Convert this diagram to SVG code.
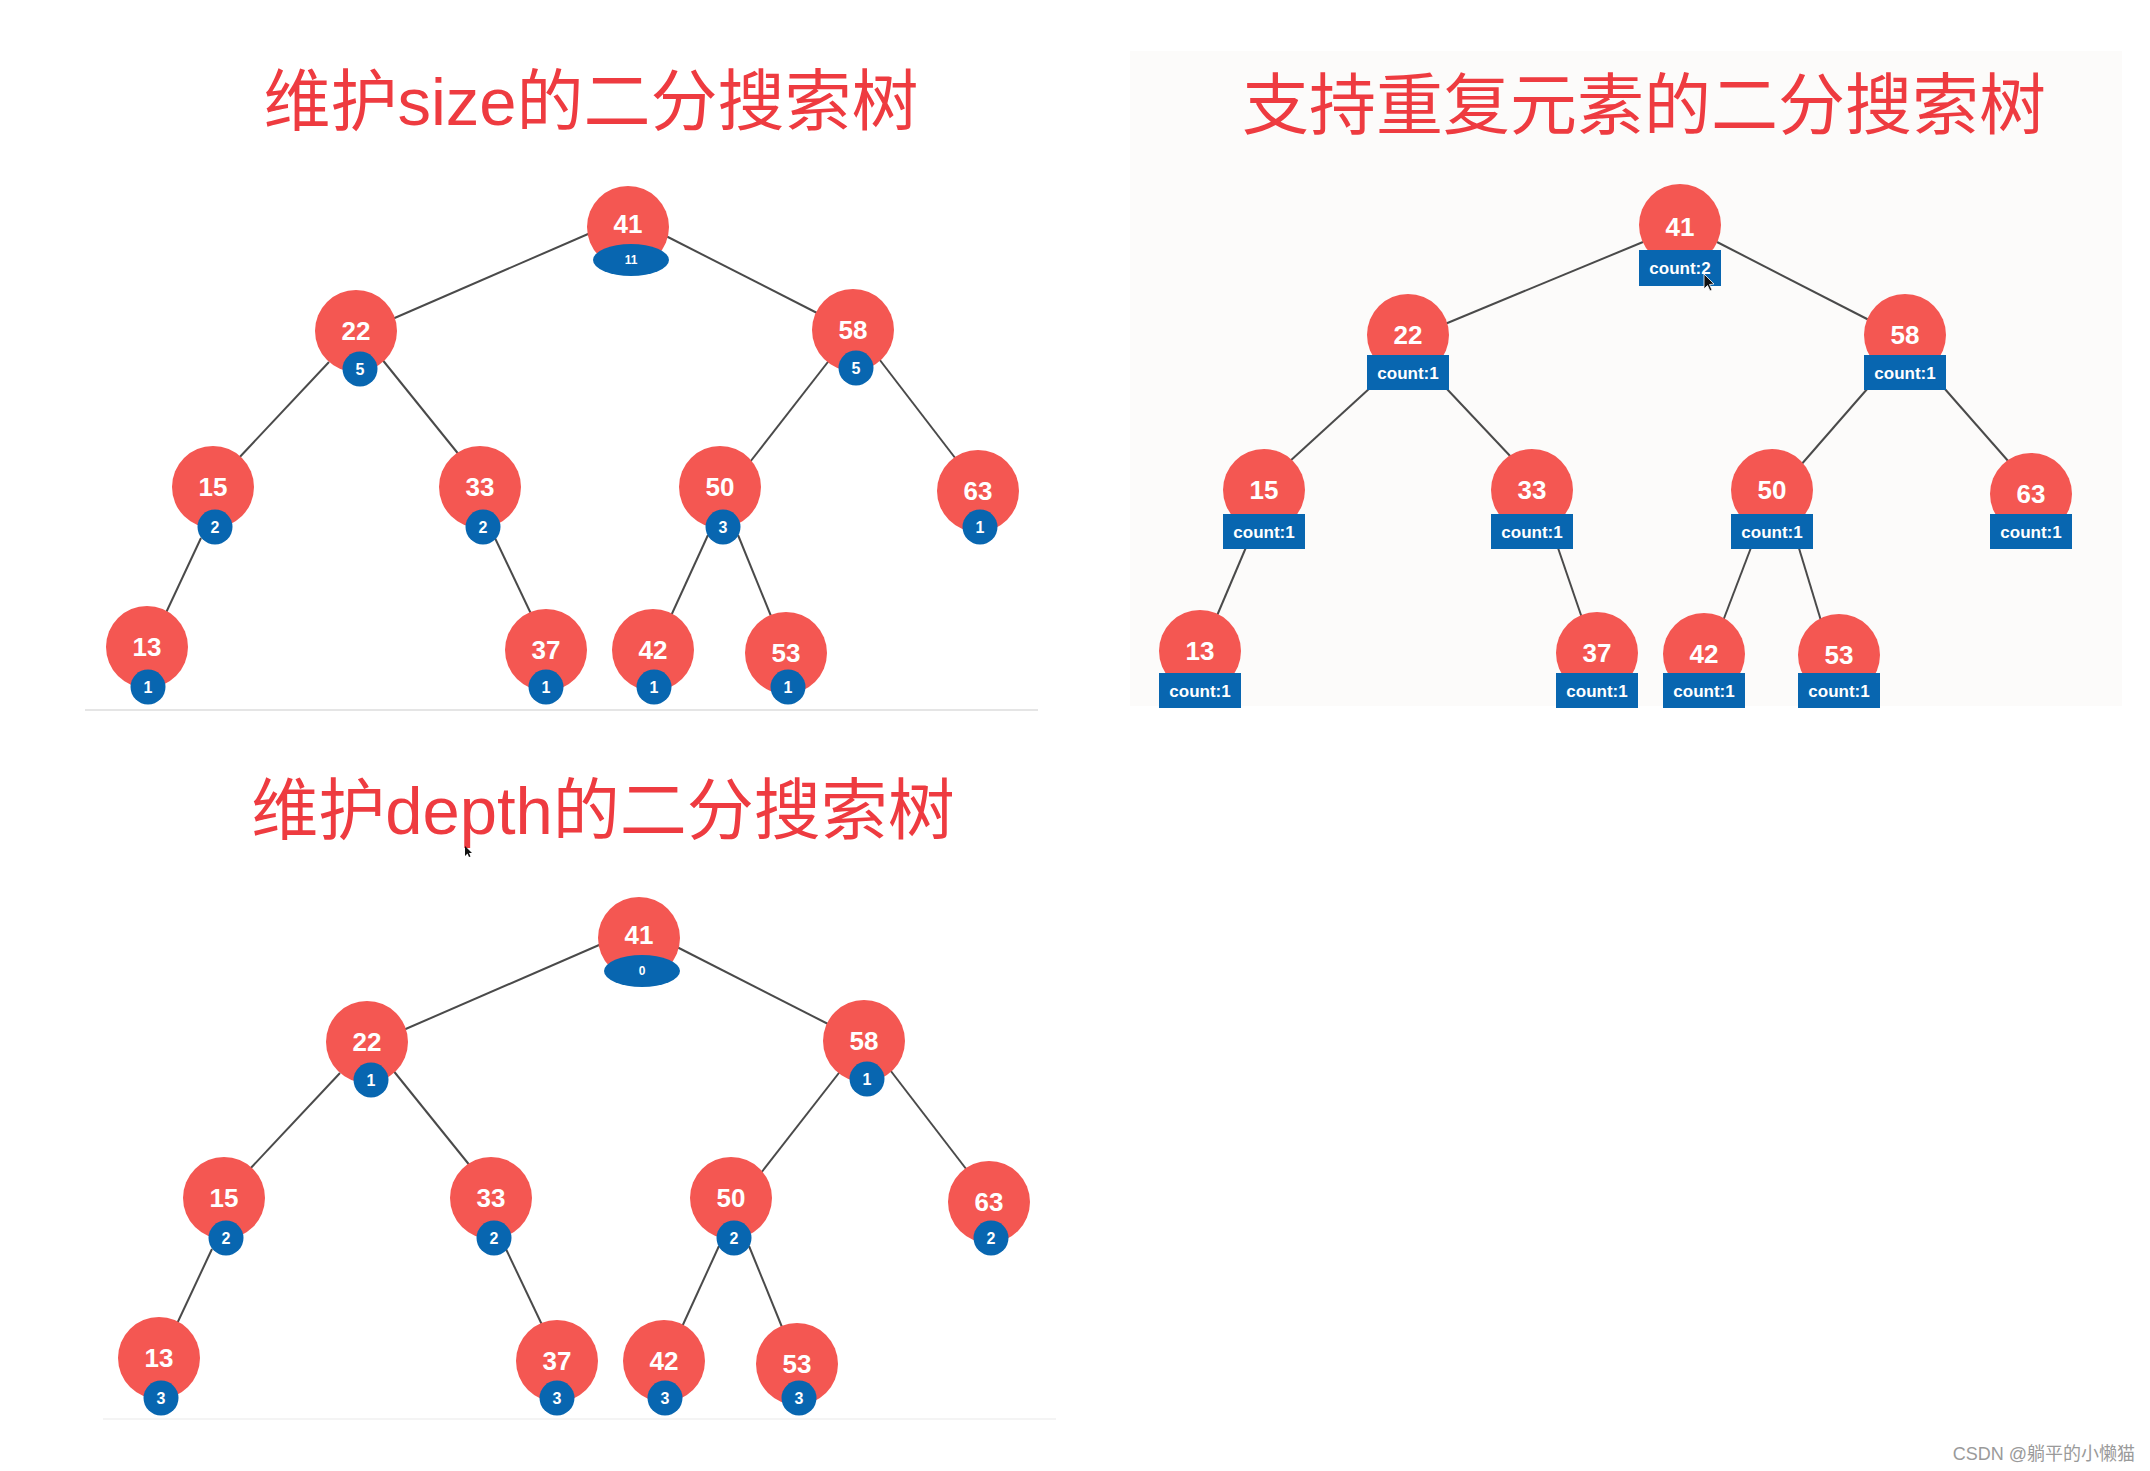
<svg xmlns="http://www.w3.org/2000/svg" width="2150" height="1471" viewBox="0 0 2150 1471">
<style>
.title{font-family:"Liberation Sans","Noto Sans CJK SC",sans-serif;font-size:67px;fill:#EE3B40;text-anchor:middle}
.nc{fill:#F45752}
.nl{font-family:"Liberation Sans",Arial,sans-serif;font-weight:bold;font-size:26px;fill:#fff;text-anchor:middle}
.bd{fill:#0866B0}
.bl{font-family:"Liberation Sans",Arial,sans-serif;font-weight:bold;font-size:16px;fill:#fff;text-anchor:middle}
.bls{font-family:"Liberation Sans",Arial,sans-serif;font-weight:bold;font-size:12px;fill:#fff;text-anchor:middle}
.bx{fill:#0866B0}
.cl{font-family:"Liberation Sans",Arial,sans-serif;font-weight:bold;font-size:17px;fill:#fff;text-anchor:middle}
.edge{stroke:#4a4a4a;stroke-width:2;fill:none}
.wm{font-family:"Liberation Sans","Noto Sans CJK SC",sans-serif;font-size:18px;fill:#9a9a9a;text-anchor:end}
</style>
<rect width="2150" height="1471" fill="#fff"/>
<rect x="1130" y="51" width="992" height="655" fill="#fcfbfa"/>
<line x1="85" y1="710" x2="1038" y2="710" stroke="#dcdcdc" stroke-width="1.5"/>
<line x1="103" y1="1419" x2="1056" y2="1419" stroke="#f0f0f0" stroke-width="1.5"/>

<text class="title" x="591" y="125">维护size的二分搜索树</text>
<text class="title" x="1644" y="129">支持重复元素的二分搜索树</text>
<text class="title" x="603" y="834">维护depth的二分搜索树</text>

<g id="connectors">
  <!-- panel 1 -->
  <line class="edge" x1="595" y1="231" x2="390" y2="320"/>
  <line class="edge" x1="662" y1="234" x2="821" y2="315"/>
  <line class="edge" x1="329" y1="362" x2="237" y2="460"/>
  <line class="edge" x1="381" y1="358" x2="460" y2="456"/>
  <line class="edge" x1="831" y1="358" x2="750" y2="462"/>
  <line class="edge" x1="876" y1="355" x2="959" y2="463"/>
  <line class="edge" x1="201" y1="538" x2="164" y2="617"/>
  <line class="edge" x1="494" y1="536" x2="533" y2="618"/>
  <line class="edge" x1="708" y1="535" x2="670" y2="618"/>
  <line class="edge" x1="738" y1="535" x2="773" y2="621"/>
  <!-- panel 2 -->
  <line class="edge" x1="1643" y1="242" x2="1445" y2="324"/>
  <line class="edge" x1="1717" y1="242" x2="1869" y2="320"/>
  <line class="edge" x1="1370" y1="388" x2="1289" y2="462"/>
  <line class="edge" x1="1446" y1="388" x2="1512" y2="458"/>
  <line class="edge" x1="1868" y1="388" x2="1800" y2="466"/>
  <line class="edge" x1="1944" y1="388" x2="2009" y2="462"/>
  <line class="edge" x1="1247" y1="545" x2="1216" y2="618"/>
  <line class="edge" x1="1557" y1="545" x2="1582" y2="618"/>
  <line class="edge" x1="1752" y1="545" x2="1723" y2="621"/>
  <line class="edge" x1="1798" y1="545" x2="1822" y2="624"/>
  <!-- panel 3 -->
  <line class="edge" x1="606" y1="942" x2="401" y2="1031"/>
  <line class="edge" x1="673" y1="945" x2="832" y2="1026"/>
  <line class="edge" x1="340" y1="1073" x2="248" y2="1171"/>
  <line class="edge" x1="392" y1="1069" x2="471" y2="1167"/>
  <line class="edge" x1="842" y1="1069" x2="761" y2="1173"/>
  <line class="edge" x1="887" y1="1066" x2="970" y2="1174"/>
  <line class="edge" x1="212" y1="1249" x2="175" y2="1328"/>
  <line class="edge" x1="505" y1="1247" x2="544" y2="1329"/>
  <line class="edge" x1="719" y1="1246" x2="681" y2="1329"/>
  <line class="edge" x1="749" y1="1246" x2="784" y2="1332"/>
</g>

<!-- Panel 1: size -->
<g id="s41"><circle class="nc" cx="628" cy="227" r="41"/><text class="nl" x="628" y="233">41</text><ellipse class="bd" cx="631" cy="260" rx="38" ry="16"/><text class="bls" x="631" y="264">11</text></g>
<g id="s22"><circle class="nc" cx="356" cy="331" r="41"/><text class="nl" x="356" y="340">22</text><circle class="bd" cx="360" cy="369" r="17.5"/><text class="bl" x="360" y="375">5</text></g>
<g id="s58"><circle class="nc" cx="853" cy="330" r="41"/><text class="nl" x="853" y="339">58</text><circle class="bd" cx="856" cy="368" r="17.5"/><text class="bl" x="856" y="374">5</text></g>
<g id="s15"><circle class="nc" cx="213" cy="487" r="41"/><text class="nl" x="213" y="496">15</text><circle class="bd" cx="215" cy="527" r="17.5"/><text class="bl" x="215" y="533">2</text></g>
<g id="s33"><circle class="nc" cx="480" cy="487" r="41"/><text class="nl" x="480" y="496">33</text><circle class="bd" cx="483" cy="527" r="17.5"/><text class="bl" x="483" y="533">2</text></g>
<g id="s50"><circle class="nc" cx="720" cy="487" r="41"/><text class="nl" x="720" y="496">50</text><circle class="bd" cx="723" cy="527" r="17.5"/><text class="bl" x="723" y="533">3</text></g>
<g id="s63"><circle class="nc" cx="978" cy="491" r="41"/><text class="nl" x="978" y="500">63</text><circle class="bd" cx="980" cy="527" r="17.5"/><text class="bl" x="980" y="533">1</text></g>
<g id="s13"><circle class="nc" cx="147" cy="647" r="41"/><text class="nl" x="147" y="656">13</text><circle class="bd" cx="148" cy="687" r="17.5"/><text class="bl" x="148" y="693">1</text></g>
<g id="s37"><circle class="nc" cx="546" cy="650" r="41"/><text class="nl" x="546" y="659">37</text><circle class="bd" cx="546" cy="687" r="17.5"/><text class="bl" x="546" y="693">1</text></g>
<g id="s42"><circle class="nc" cx="653" cy="650" r="41"/><text class="nl" x="653" y="659">42</text><circle class="bd" cx="654" cy="687" r="17.5"/><text class="bl" x="654" y="693">1</text></g>
<g id="s53"><circle class="nc" cx="786" cy="653" r="41"/><text class="nl" x="786" y="662">53</text><circle class="bd" cx="788" cy="687" r="17.5"/><text class="bl" x="788" y="693">1</text></g>

<!-- Panel 2: count -->
<g id="c41"><circle class="nc" cx="1680" cy="225" r="41"/><text class="nl" x="1680" y="236">41</text><rect class="bx" x="1639" y="250" width="82" height="36"/><text class="cl" x="1680" y="274">count:2</text></g>
<g id="c22"><circle class="nc" cx="1408" cy="335" r="41"/><text class="nl" x="1408" y="344">22</text><rect class="bx" x="1367" y="355" width="82" height="35"/><text class="cl" x="1408" y="379">count:1</text></g>
<g id="c58"><circle class="nc" cx="1905" cy="335" r="41"/><text class="nl" x="1905" y="344">58</text><rect class="bx" x="1864" y="355" width="82" height="35"/><text class="cl" x="1905" y="379">count:1</text></g>
<g id="c15"><circle class="nc" cx="1264" cy="490" r="41"/><text class="nl" x="1264" y="499">15</text><rect class="bx" x="1223" y="514" width="82" height="35"/><text class="cl" x="1264" y="538">count:1</text></g>
<g id="c33"><circle class="nc" cx="1532" cy="490" r="41"/><text class="nl" x="1532" y="499">33</text><rect class="bx" x="1491" y="514" width="82" height="35"/><text class="cl" x="1532" y="538">count:1</text></g>
<g id="c50"><circle class="nc" cx="1772" cy="490" r="41"/><text class="nl" x="1772" y="499">50</text><rect class="bx" x="1731" y="514" width="82" height="35"/><text class="cl" x="1772" y="538">count:1</text></g>
<g id="c63"><circle class="nc" cx="2031" cy="494" r="41"/><text class="nl" x="2031" y="503">63</text><rect class="bx" x="1990" y="514" width="82" height="35"/><text class="cl" x="2031" y="538">count:1</text></g>
<g id="c13"><circle class="nc" cx="1200" cy="651" r="41"/><text class="nl" x="1200" y="660">13</text><rect class="bx" x="1159" y="673" width="82" height="35"/><text class="cl" x="1200" y="697">count:1</text></g>
<g id="c37"><circle class="nc" cx="1597" cy="653" r="41"/><text class="nl" x="1597" y="662">37</text><rect class="bx" x="1556" y="673" width="82" height="35"/><text class="cl" x="1597" y="697">count:1</text></g>
<g id="c42"><circle class="nc" cx="1704" cy="654" r="41"/><text class="nl" x="1704" y="663">42</text><rect class="bx" x="1663" y="673" width="82" height="35"/><text class="cl" x="1704" y="697">count:1</text></g>
<g id="c53"><circle class="nc" cx="1839" cy="655" r="41"/><text class="nl" x="1839" y="664">53</text><rect class="bx" x="1798" y="673" width="82" height="35"/><text class="cl" x="1839" y="697">count:1</text></g>

<!-- Panel 3: depth -->
<g id="d41"><circle class="nc" cx="639" cy="938" r="41"/><text class="nl" x="639" y="944">41</text><ellipse class="bd" cx="642" cy="971" rx="38" ry="16"/><text class="bls" x="642" y="975">0</text></g>
<g id="d22"><circle class="nc" cx="367" cy="1042" r="41"/><text class="nl" x="367" y="1051">22</text><circle class="bd" cx="371" cy="1080" r="17.5"/><text class="bl" x="371" y="1086">1</text></g>
<g id="d58"><circle class="nc" cx="864" cy="1041" r="41"/><text class="nl" x="864" y="1050">58</text><circle class="bd" cx="867" cy="1079" r="17.5"/><text class="bl" x="867" y="1085">1</text></g>
<g id="d15"><circle class="nc" cx="224" cy="1198" r="41"/><text class="nl" x="224" y="1207">15</text><circle class="bd" cx="226" cy="1238" r="17.5"/><text class="bl" x="226" y="1244">2</text></g>
<g id="d33"><circle class="nc" cx="491" cy="1198" r="41"/><text class="nl" x="491" y="1207">33</text><circle class="bd" cx="494" cy="1238" r="17.5"/><text class="bl" x="494" y="1244">2</text></g>
<g id="d50"><circle class="nc" cx="731" cy="1198" r="41"/><text class="nl" x="731" y="1207">50</text><circle class="bd" cx="734" cy="1238" r="17.5"/><text class="bl" x="734" y="1244">2</text></g>
<g id="d63"><circle class="nc" cx="989" cy="1202" r="41"/><text class="nl" x="989" y="1211">63</text><circle class="bd" cx="991" cy="1238" r="17.5"/><text class="bl" x="991" y="1244">2</text></g>
<g id="d13"><circle class="nc" cx="159" cy="1358" r="41"/><text class="nl" x="159" y="1367">13</text><circle class="bd" cx="161" cy="1398" r="17.5"/><text class="bl" x="161" y="1404">3</text></g>
<g id="d37"><circle class="nc" cx="557" cy="1361" r="41"/><text class="nl" x="557" y="1370">37</text><circle class="bd" cx="557" cy="1398" r="17.5"/><text class="bl" x="557" y="1404">3</text></g>
<g id="d42"><circle class="nc" cx="664" cy="1361" r="41"/><text class="nl" x="664" y="1370">42</text><circle class="bd" cx="665" cy="1398" r="17.5"/><text class="bl" x="665" y="1404">3</text></g>
<g id="d53"><circle class="nc" cx="797" cy="1364" r="41"/><text class="nl" x="797" y="1373">53</text><circle class="bd" cx="799" cy="1398" r="17.5"/><text class="bl" x="799" y="1404">3</text></g>

<!-- cursors -->
<path d="M1704,274 L1704,289 L1707.5,285.5 L1710,291 L1712,290 L1709.5,284.5 L1714,284 Z" fill="#111" stroke="#fff" stroke-width="0.8"/>
<path d="M465,846 L465,856 L467.5,853.5 L469,857 L470.5,856.5 L469,853 L472,853 Z" fill="#111"/>

<text class="wm" x="2135" y="1460">CSDN @躺平的小懒猫</text>
</svg>
